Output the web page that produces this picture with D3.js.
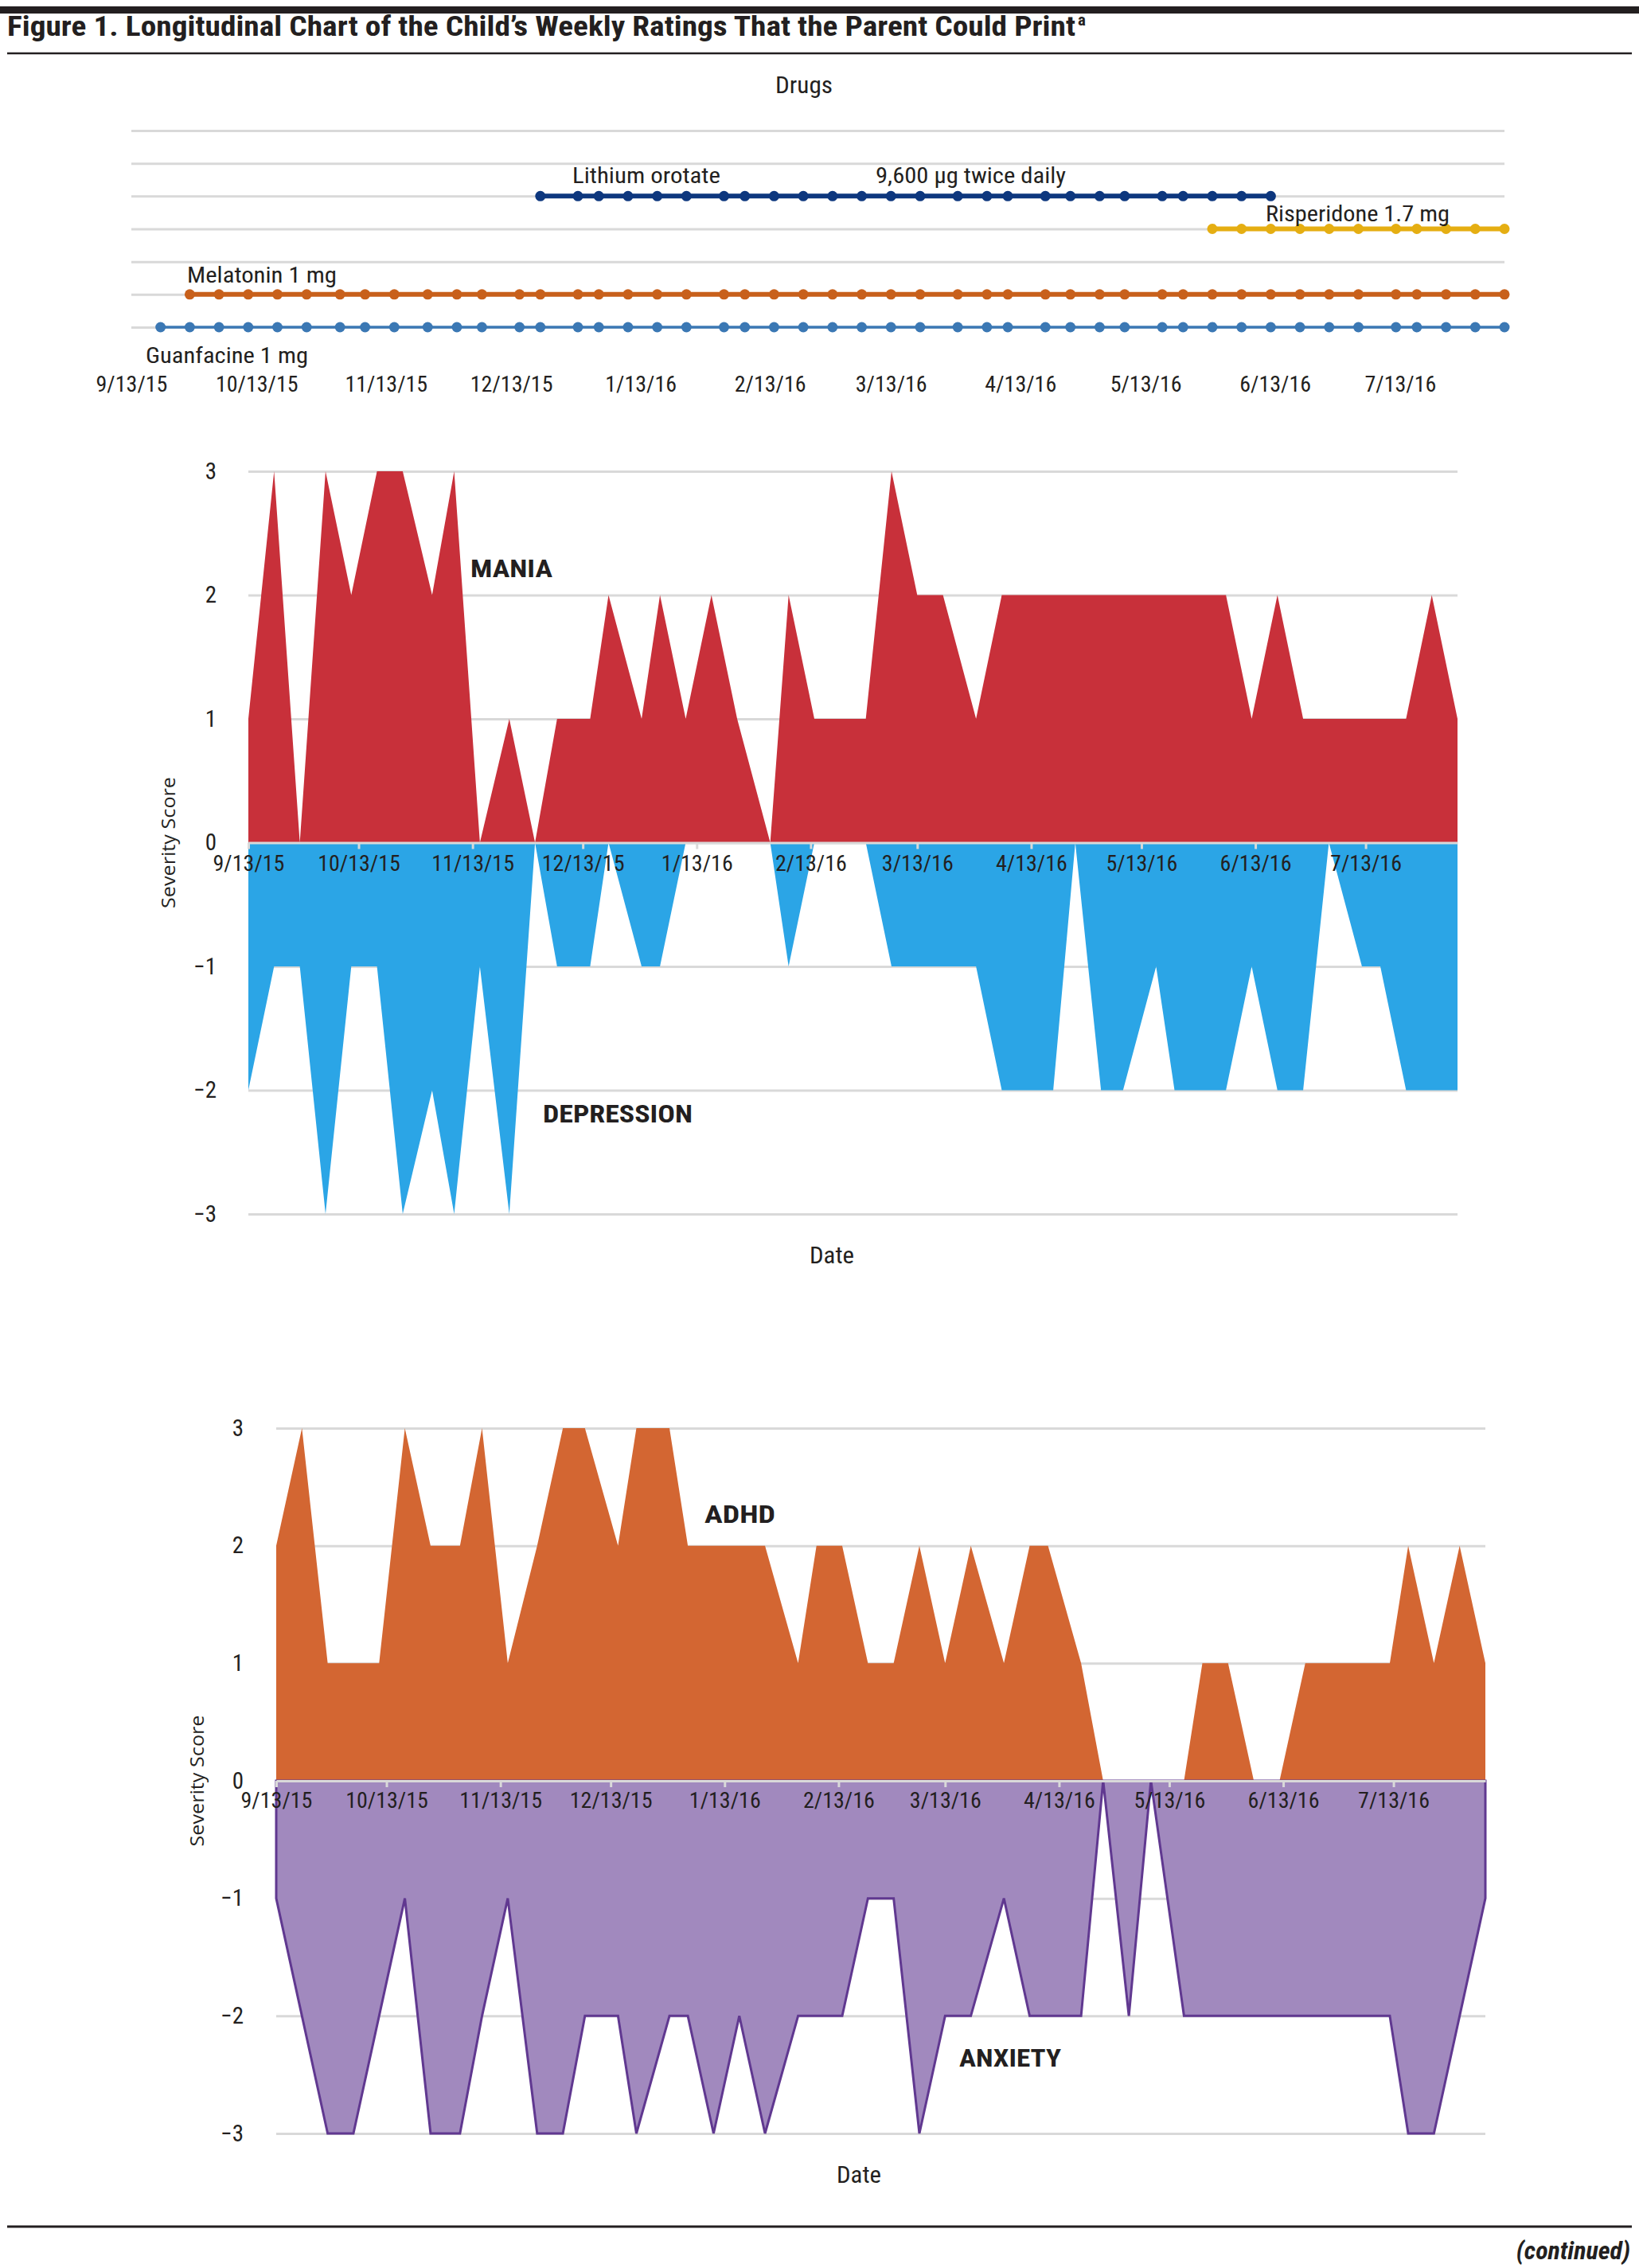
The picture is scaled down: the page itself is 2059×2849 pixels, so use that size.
<!DOCTYPE html>
<html>
<head>
<meta charset="UTF-8">
<style>
  body { margin: 0; background: #fff; }
  svg { display: block; background: #fff; }
  .cond { font-family: "Liberation Sans Narrow", "Roboto Condensed", "DejaVu Sans Condensed", "Open Sans", sans-serif; fill: #231f20; }
  .reg { font-family: "Open Sans", "Noto Sans", sans-serif; fill: #231f20; }
</style>
</head>
<body>
<svg id="fig" width="2059" height="2849"></svg>
<script src="https://d3js.org/d3.v7.min.js"></script>
<script>
// weekly rating dates
const ratingDates = [
  "2015-09-13", "2015-09-20", "2015-09-27", "2015-10-04", "2015-10-11", "2015-10-18", "2015-10-25", "2015-11-02",
  "2015-11-08", "2015-11-15", "2015-11-23", "2015-11-30", "2015-12-06", "2015-12-15", "2015-12-20", "2015-12-29",
  "2016-01-03", "2016-01-10", "2016-01-17", "2016-01-24", "2016-02-02", "2016-02-07", "2016-02-14", "2016-02-21",
  "2016-02-28", "2016-03-06", "2016-03-13", "2016-03-20", "2016-03-29", "2016-04-05", "2016-04-10", "2016-04-19",
  "2016-04-25", "2016-05-02", "2016-05-08", "2016-05-17", "2016-05-22", "2016-05-29", "2016-06-05", "2016-06-12",
  "2016-06-19", "2016-06-26", "2016-07-03", "2016-07-12", "2016-07-17", "2016-07-24", "2016-07-31", "2016-08-07"
];
const maniaScores      = [1, 3, 0, 3, 2, 3, 3, 2, 3, 0, 1, 0, 1, 1, 2, 1, 2, 1, 2, 1, 0, 2, 1, 1, 1, 3, 2, 2, 1, 2, 2, 2, 2, 2, 2, 2, 2, 2, 2, 1, 2, 1, 1, 1, 1, 1, 2, 1];
const depressionScores = [-2, -1, -1, -3, -1, -1, -3, -2, -3, -1, -3, 0, -1, -1, 0, -1, -1, 0, 0, 0, 0, -1, 0, 0, 0, -1, -1, -1, -1, -2, -2, -2, 0, -2, -2, -1, -2, -2, -2, -1, -2, -2, 0, -1, -1, -2, -2, -2];
const adhdScores       = [2, 3, 1, 1, 1, 3, 2, 2, 3, 1, 2, 3, 3, 2, 3, 3, 2, 2, 2, 2, 1, 2, 2, 1, 1, 2, 1, 2, 1, 2, 2, 1, 0, 0, 0, 0, 1, 1, 0, 0, 1, 1, 1, 1, 2, 1, 2, 1];
const anxietyScores    = [-1, -2, -3, -3, -2, -1, -3, -3, -2, -1, -3, -3, -2, -2, -3, -2, -2, -3, -2, -3, -2, -2, -2, -1, -1, -3, -2, -2, -1, -2, -2, -2, 0, -2, 0, -2, -2, -2, -2, -2, -2, -2, -2, -2, -3, -3, -2, -1];

// drugs
const drugNames = ["Guanfacine 1 mg", "Melatonin 1 mg", "Risperidone 1.7 mg", "Lithium orotate"];
const drugStart = ["2015-09-20", "2015-09-27", "2016-05-29", "2015-12-20"];
const drugEnd   = ["2016-08-07", "2016-08-07", "2016-08-07", "2016-06-12"];
const drugRow   = [1, 2, 4, 5];
const drugGridRows = [1, 2, 3, 4, 5, 6, 7];

// axis ticks
const monthTicks = ["2015-09-13", "2015-10-13", "2015-11-13", "2015-12-13", "2016-01-13", "2016-02-13",
                    "2016-03-13", "2016-04-13", "2016-05-13", "2016-06-13", "2016-07-13"];
const severityTicks = [3, 2, 1, 0, -1, -2, -3];

const parse = d3.timeParse("%Y-%m-%d");
const fmtDate = d3.timeFormat("%-m/%-d/%y");
const fmtScore = d => d < 0 ? "\u2212" + Math.abs(d) : String(d);
const dateDomain = [parse("2015-09-13"), parse("2016-08-07")];
const ink = "#231f20", grid = "#d9d9d9";

const svg = d3.select("#fig");

// ---- header / footer rules
svg.append("rect").attr("x", 0).attr("y", 8).attr("width", 2059).attr("height", 9).attr("fill", ink);
svg.append("text").attr("class", "cond").attr("x", 9).attr("y", 45)
    .attr("font-size", 35).attr("font-weight", "bold")
    .attr("textLength", 1342).attr("lengthAdjust", "spacingAndGlyphs")
    .text("Figure 1. Longitudinal Chart of the Child\u2019s Weekly Ratings That the Parent Could Print");
svg.append("text").attr("class", "cond").attr("x", 1354).attr("y", 32)
    .attr("font-size", 21).attr("font-weight", "bold").text("a");
svg.append("line").attr("x1", 9).attr("x2", 2050).attr("y1", 67).attr("y2", 67)
    .attr("stroke", ink).attr("stroke-width", 2.5);

svg.append("line").attr("x1", 9).attr("x2", 2050).attr("y1", 2797).attr("y2", 2797)
    .attr("stroke", ink).attr("stroke-width", 3);
svg.append("text").attr("class", "cond").attr("x", 2048).attr("y", 2838)
    .attr("text-anchor", "end").attr("font-size", 32).attr("font-weight", "bold")
    .attr("font-style", "italic").text("(continued)");

// ---- drugs chart
const xDrug = d3.scaleTime().domain(dateDomain).range([165, 1890]);
const yDrug = d3.scaleLinear().domain([1, 7]).range([411, 164]);

const drugGrid = svg.append("g").attr("transform", "translate(165,0)")
    .call(d3.axisLeft(yDrug).tickValues(drugGridRows).tickSize(-(1890 - 165)).tickFormat(""));
drugGrid.select(".domain").remove();
drugGrid.selectAll("line").attr("stroke", grid).attr("stroke-width", 3);

svg.append("text").attr("class", "cond").attr("x", 1010).attr("y", 117)
    .attr("text-anchor", "middle").attr("font-size", 29)
    .attr("textLength", 72).attr("lengthAdjust", "spacingAndGlyphs").text("Drugs");

const drugColor = ["#3b78b4", "#c8601b", "#e5ae12", "#0d377e"];
const drugWidth = [3.5, 6, 6, 6];
const drugLine = d3.line().x(d => xDrug(d.date)).y(d => yDrug(d.row));

drugNames.forEach((name, i) => {
  const s = parse(drugStart[i]), e = parse(drugEnd[i]);
  const pts = ratingDates.map(parse).filter(d => d >= s && d <= e)
      .map(d => ({ date: d, row: drugRow[i] }));
  const g = svg.append("g");
  g.append("path").datum(pts).attr("d", drugLine)
      .attr("fill", "none").attr("stroke", drugColor[i]).attr("stroke-width", drugWidth[i]);
  g.selectAll("circle").data(pts).enter().append("circle")
      .attr("cx", d => xDrug(d.date)).attr("cy", d => yDrug(d.row)).attr("r", 6.5)
      .attr("fill", drugColor[i]);
});

const drugLabel = (txt, x, y, len) => svg.append("text").attr("class", "cond")
    .attr("x", x).attr("y", y).attr("font-size", 28)
    .attr("textLength", len).attr("lengthAdjust", "spacingAndGlyphs").text(txt);
drugLabel(drugNames[0], 183, 456, 204);
drugLabel(drugNames[1], 235, 355, 188);
drugLabel(drugNames[2], 1590, 278, 231);
drugLabel(drugNames[3], 719, 230, 186);
drugLabel("9,600 \u00b5g twice daily", 1100, 230, 239);

const drugAxis = svg.append("g").attr("transform", "translate(0,492)")
    .call(d3.axisBottom(xDrug).tickValues(monthTicks.map(parse)).tickFormat(fmtDate).tickSize(0));
drugAxis.select(".domain").remove();
drugAxis.selectAll("text").attr("class", "cond").attr("y", 0).attr("dy", null)
    .attr("font-size", 28).attr("fill", ink);
drugAxis.attr("font-family", null);

// ---- severity panels
function severityPanel(o) {
  const x = d3.scaleTime().domain(dateDomain).range([o.left, o.right]);
  const y = d3.scaleLinear().domain([-3, 3]).range([o.bottom, o.top]);
  const g = svg.append("g");

  const yAxis = g.append("g").attr("transform", `translate(${o.left},0)`)
      .call(d3.axisLeft(y).tickValues(severityTicks).tickSize(-(o.right - o.left))
          .tickPadding(o.pad).tickFormat(fmtScore));
  yAxis.attr("font-family", null);
  yAxis.select(".domain").remove();
  yAxis.selectAll("line").attr("stroke", grid).attr("stroke-width", 3);
  yAxis.selectAll("text").attr("class", "cond").attr("font-size", 29).attr("fill", ink);

  const pts = ratingDates.map((d, i) => ({ date: parse(d), up: o.up[i], down: o.down[i] }));
  g.append("path").datum(pts)
      .attr("d", d3.area().x(d => x(d.date)).y0(y(0)).y1(d => y(d.up)))
      .attr("fill", o.upColor);
  g.append("path").datum(pts)
      .attr("d", d3.area().x(d => x(d.date)).y0(y(0)).y1(d => y(d.down)))
      .attr("fill", o.downColor)
      .attr("stroke", o.downStroke || "none").attr("stroke-width", 3)
      .attr("stroke-linejoin", "miter");

  const xAxis = g.append("g").attr("transform", `translate(0,${y(0)})`)
      .call(d3.axisBottom(x).tickValues(monthTicks.map(parse)).tickFormat(fmtDate)
          .tickSizeInner(8).tickSizeOuter(0));
  xAxis.attr("font-family", null);
  xAxis.select(".domain").attr("stroke", grid).attr("stroke-width", 3);
  xAxis.selectAll(".tick line").attr("stroke", grid).attr("stroke-width", 3);
  xAxis.selectAll("text").attr("class", "cond").attr("y", o.tickY).attr("dy", null)
      .attr("font-size", 28).attr("fill", ink);

  g.append("text").attr("class", "reg")
      .attr("transform", `translate(${o.sevX},${y(0)}) rotate(-90)`)
      .attr("text-anchor", "middle").attr("dy", "0.35em").attr("font-size", 23)
      .attr("textLength", 165).attr("lengthAdjust", "spacingAndGlyphs").text("Severity Score");
  g.append("text").attr("class", "cond").attr("x", o.dateX).attr("y", o.dateY)
      .attr("text-anchor", "middle").attr("font-size", 29)
      .attr("textLength", 56).attr("lengthAdjust", "spacingAndGlyphs").text("Date");

  o.labels.forEach(l => {
    g.append("text").attr("class", "cond").attr("x", l.x).attr("y", l.y)
        .attr("font-size", 32).attr("font-weight", "bold")
        .attr("textLength", l.len).attr("lengthAdjust", "spacingAndGlyphs").text(l.text);
  });
}

severityPanel({
  left: 312, right: 1831, top: 592, bottom: 1525, pad: 40, tickY: 35,
  up: maniaScores, down: depressionScores,
  upColor: "#c8303a", downColor: "#2ba5e6",
  sevX: 212, dateX: 1045, dateY: 1587,
  labels: [
    { text: "MANIA", x: 591, y: 725, len: 103 },
    { text: "DEPRESSION", x: 682, y: 1410, len: 188 }
  ]
});

severityPanel({
  left: 347, right: 1866, top: 1794, bottom: 2680, pad: 41, tickY: 34,
  up: adhdScores, down: anxietyScores,
  upColor: "#d36632", downColor: "#a189be", downStroke: "#603890",
  sevX: 248, dateX: 1079, dateY: 2742,
  labels: [
    { text: "ADHD", x: 885, y: 1913, len: 89 },
    { text: "ANXIETY", x: 1205, y: 2596, len: 128 }
  ]
});
</script>
</body>
</html>
